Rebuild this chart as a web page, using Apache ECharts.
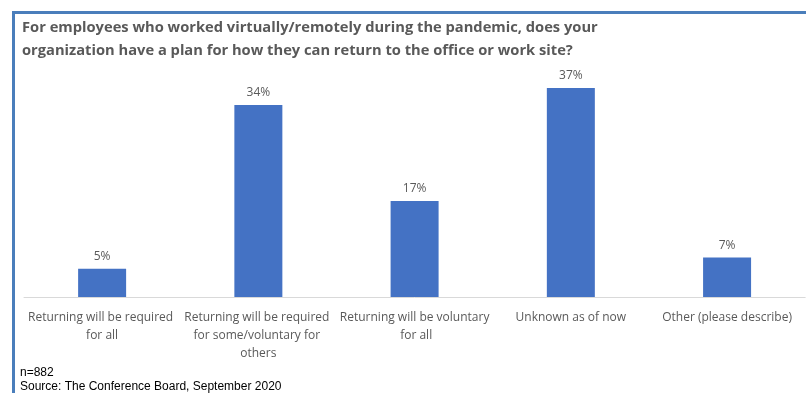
<!DOCTYPE html>
<html><head><meta charset="utf-8">
<script src="https://cdn.jsdelivr.net/npm/echarts@6/dist/echarts.min.js"></script>
<style>html,body{margin:0;padding:0;background:#fff}#c{width:806px;height:393px}</style>
</head><body><div id="c"></div>
<script>
const categories = ["Returning will be required for all", "Returning will be required for some/voluntary for others", "Returning will be voluntary for all", "Unknown as of now", "Other (please describe)"];
const values = [5, 34, 17, 37, 7];
const titleText = "For employees who worked virtually/remotely during the pandemic, does your\norganization have a plan for how they can return to the office or work site?";
const noteN = "n=882";
const noteSource = "Source: The Conference Board, September 2020";

const chart = echarts.init(document.getElementById('c'));
chart.setOption({
  animation: false,
  title: {
    text: titleText, left: 17, top: 11,
    textStyle: {fontFamily: 'Open Sans', fontSize: 14.7, fontWeight: 'bold', color: '#595959', lineHeight: 23}
  },
  grid: {left: 24, right: 0, top: 88, bottom: 96},
  xAxis: {
    type: 'category', data: categories,
    axisLine: {lineStyle: {color: '#d9d9d9'}},
    axisTick: {show: false},
    axisLabel: {interval: 0, color: '#595959', fontFamily: 'Open Sans', fontSize: 12, lineHeight: 18, width: 152, overflow: 'break', margin: 12}
  },
  yAxis: {type: 'value', min: 0, max: 37, show: false, splitLine: {show: false}},
  series: [{
    type: 'bar', data: values, barWidth: 48,
    itemStyle: {color: '#4472c4'},
    label: {show: true, position: 'top', distance: 6, formatter: '{c}%', color: '#595959', fontFamily: 'Open Sans', fontSize: 12}
  }],
  graphic: [
    {type: 'rect', shape: {x: 12, y: 11, width: 794, height: 3}, style: {fill: '#4a7ebb'}},
    {type: 'rect', shape: {x: 12, y: 11, width: 3, height: 382}, style: {fill: '#4a7ebb'}},
    {type: 'text', left: 20, top: 367, style: {text: noteN, font: '12px "Liberation Sans"', fill: '#000'}},
    {type: 'text', left: 20, top: 381, style: {text: noteSource, font: '12px "Liberation Sans"', fill: '#000'}}
  ]
});
</script></body></html>
